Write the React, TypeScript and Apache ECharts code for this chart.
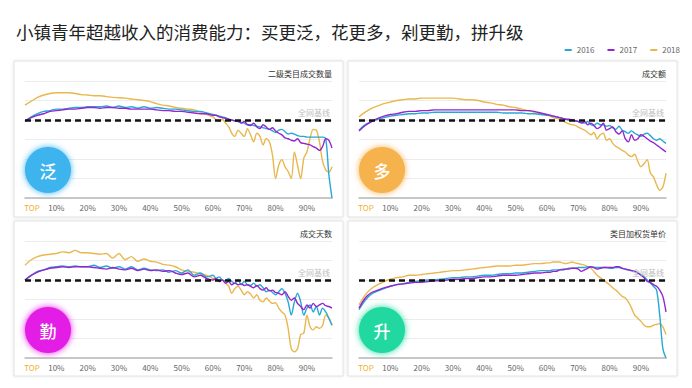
import React, { useEffect, useRef } from 'react';
import * as echarts from 'echarts';

const TITLE = '小镇青年超越收入的消费能力：买更泛，花更多，剁更勤，拼升级';
const YEARS = ['2016', '2017', '2018'];
const YEAR_COLORS = ['#27a8d4', '#9326cf', '#e8b84e'];
const PANEL_TITLES = ['二级类目成交数量', '成交额', '成交天数', '类目加权货单价'];
const BADGES = ['泛', '多', '勤', '升'];
const BADGE_COLORS = ['#3db4ee', '#f6b24e', '#e31fe6', '#22d8a1'];
const BASELINE = 100;
const BASELINE_LABEL = '全网基线';
const TOP_LABEL = 'TOP';

// ranking percentile positions
const XS = [
  0, 2, 4, 6, 8, 10, 12, 14, 16, 18, 20, 22, 24, 26, 28, 30, 32, 34, 36, 38, 40, 42, 44, 46, 48, 50, 52, 54, 56, 58, 60,
  61, 62, 63, 64, 65, 66, 67, 68, 69, 70, 71, 72, 73, 74, 75, 76, 77, 78, 79, 80, 81, 82, 83, 84, 85, 86, 87, 88, 89, 90,
  91, 92, 93, 94, 95, 96, 97, 98,
];

// Panel 1: 二级类目成交数量 (index, baseline = 100)
const QTY_2016 = [
  98, 104, 108, 111, 112, 114, 114, 115, 116, 116, 117, 117, 117, 118, 116, 118, 116, 117, 115, 117, 115, 116, 115, 114, 114, 113, 112, 111, 111, 109, 107,
  106, 105, 104, 103, 101, 100, 99, 98, 97, 96, 94, 94, 93, 92, 91, 90, 89, 88, 86, 84, 87, 88, 85, 82, 83, 82, 80, 79, 79, 78,
  78, 78, 78, 78, 78, 76, 30, 0,
];
const QTY_2017 = [
  99, 103, 106, 108, 111, 112, 113, 114, 114, 115, 116, 116, 115, 116, 116, 115, 115, 114, 114, 114, 114, 113, 112, 112, 111, 111, 110, 109, 108, 108, 106,
  106, 104, 103, 102, 101, 100, 99, 99, 96, 98, 94, 93, 96, 91, 89, 94, 91, 88, 90, 86, 83, 81, 77, 76, 74, 73, 76, 71, 70, 69,
  68, 66, 64, 61, 66, 76, 74, 64,
];
const QTY_2018 = [
  119, 124, 129, 132, 134, 135, 135, 135, 134, 132.5, 132, 131, 131, 130, 129, 128.6, 128, 127, 126, 125, 123.5, 121, 119, 118, 116, 115, 114, 113, 110, 107, 104,
  100, 98, 101, 96, 91.5, 83, 79, 87, 83, 79, 89, 81, 72, 83, 79, 68, 76.5, 72, 55, 25, 42, 49, 40, 34, 25, 59, 42, 25, 51, 59,
  76.5, 88, 87, 72, 47, 36, 33, 40,
];

// Panel 2: 成交额
const GMV_2016 = [
  87, 94, 98, 101, 103, 105, 106, 107, 108, 108, 109, 109, 110, 110, 110, 110, 110, 110, 110, 110, 110, 110, 110, 109, 109, 109, 109, 108, 108, 107, 106,
  106, 105, 104, 103, 102, 101, 100, 100, 99, 98, 97, 96, 98, 94, 93, 96, 94, 94, 92, 93, 90, 88, 92, 87, 85, 83, 86, 83, 81, 79,
  82, 83, 80, 76, 74, 76, 73, 70,
];
const GMV_2017 = [
  86, 93, 98, 102, 105, 107, 108, 110, 111, 111, 112, 112, 113, 113, 113, 113, 113, 113, 113, 113, 113, 113, 113, 113, 113, 113, 112, 112, 111, 109, 107,
  106, 105, 104, 103, 102, 101, 101, 100, 99, 98, 96, 98, 94, 96, 93, 89, 91, 96, 87, 89, 91, 85, 82, 86, 76, 72, 81, 74, 76, 81,
  79, 76, 73, 71, 68, 65, 62, 59,
];
const GMV_2018 = [
  104, 110, 115, 118, 121, 123, 125, 126, 127, 127, 128, 128, 128, 128, 128, 128, 127, 126, 126, 125, 123, 122, 120, 119, 117, 116, 114, 112, 110, 108, 106,
  105, 103, 102, 101, 99, 97, 95, 94, 93, 91, 89, 87, 84, 81, 84, 76, 81, 83, 74, 76, 70, 66, 64, 61, 59, 55, 53, 56, 47, 40,
  44, 49, 32, 27, 17, 10, 14, 32,
];

// Panel 3: 成交天数
const DAYS_2016 = [
  100, 106, 111, 113, 116, 117, 118, 117, 118, 117, 117, 119, 116, 118, 115, 117, 114, 117, 113, 115, 113, 112, 113, 110, 112, 109, 113, 106, 109, 104, 106,
  102, 104, 100, 99, 102, 98, 96, 100, 94, 98, 94, 93, 96, 92, 94, 90, 85, 87, 84, 81, 85, 89, 83, 72, 55, 72, 83, 72, 55, 64,
  68, 59, 66, 55, 64, 59, 51, 42,
];
const DAYS_2017 = [
  100, 106, 110, 113, 115, 116, 117, 116, 117, 117, 117, 116, 115, 114, 116, 114, 113, 115, 112, 114, 112, 113, 111, 112, 109, 107, 109, 104, 106, 102, 100,
  102, 98, 100, 96, 98, 94, 96, 94, 95, 93, 94, 92, 90, 93, 89, 87, 90, 86, 87, 84, 83, 81, 85, 79, 74, 77, 70, 66, 62, 68,
  64, 70, 66, 68, 70, 67, 66, 64,
];
const DAYS_2018 = [
  119, 126, 130, 132, 133, 134, 136, 135, 138, 135, 135, 134, 133, 134, 128, 134, 126, 130, 124, 127, 124, 123, 120, 119, 117, 113, 111, 110, 108, 106, 102,
  101, 98, 100, 96, 92, 83, 89, 92, 87, 81, 85, 82, 77, 81, 74, 72, 77, 73, 70, 71, 64, 59, 55, 38, 12, 8, 12, 30, 32, 55,
  40, 36, 40, 38, 42, 55, 51, 42,
];

// Panel 4: 类目加权货单价
const PRICE_2016 = [
  62, 74, 82, 86, 89, 92, 94, 95, 97, 98, 99, 100, 100, 101, 102, 103, 103, 104, 104, 105, 106, 106, 107, 108, 108, 109, 109, 110, 111, 112, 112,
  112, 113, 113, 113, 114, 114, 115, 115, 115, 116, 116, 116, 117, 117, 116, 116, 116, 116, 116, 115, 115, 116, 116, 115, 114, 113, 112, 111, 109, 107,
  104, 100, 96, 92, 87, 55, 12, 0,
];
const PRICE_2017 = [
  64, 77, 84, 87, 90, 92, 94, 95, 96, 97, 97, 98, 99, 99, 100, 101, 101, 102, 102, 103, 104, 104, 105, 106, 106, 106, 107, 108, 109, 109, 110,
  110, 111, 111, 113, 113, 114, 114, 115, 115, 114, 111, 113, 115, 117, 116, 114, 115, 116, 116, 116, 116, 117, 117, 115, 114, 113, 112, 111, 109, 106,
  103, 98, 97, 94, 92, 87, 79, 59,
];
const PRICE_2018 = [
  68, 81, 89, 94, 98, 101, 103, 104, 106, 106, 107, 108, 109, 110, 111, 112, 112, 113, 114, 115, 116, 117, 118, 118, 118, 119, 119, 120, 121, 121, 122,
  122, 123, 123, 123, 122, 121, 122, 123, 122, 121, 120, 119, 117, 115, 111, 106, 103, 100, 97, 94, 90, 87, 83, 79, 77, 72, 64, 55, 51, 47,
  42, 40, 40, 42, 43, 44, 40, 30,
];

const PANEL_DATA = [
  [QTY_2016, QTY_2017, QTY_2018],
  [GMV_2016, GMV_2017, GMV_2018],
  [DAYS_2016, DAYS_2017, DAYS_2018],
  [PRICE_2016, PRICE_2017, PRICE_2018],
];

const FONT = '"Noto Sans CJK SC", "Noto Sans", sans-serif';
const W = 692;
const H = 388;
const PANELS = [
  { px: 14, py: 61, h: 156 },
  { px: 348, py: 61, h: 156 },
  { px: 14, py: 221, h: 155 },
  { px: 348, py: 221, h: 155 },
];
const PANEL_W = 329;
const GRID_W = 307;
const GRID_H = 117;

function buildOption() {
  const grids: any[] = [];
  const xAxes: any[] = [];
  const yAxes: any[] = [];
  const series: any[] = [];
  const titles: any[] = [
    {
      text: TITLE,
      left: 16,
      top: 23,
      padding: 0,
      textStyle: { fontSize: 17.5, fontWeight: 'normal', color: '#222', fontFamily: FONT },
    },
  ];
  const graphics: any[] = [];

  PANELS.forEach((p, i) => {
    const gl = p.px + 11;
    const gt = p.py + 20;
    grids.push({ left: gl, top: gt, width: GRID_W, height: GRID_H, containLabel: false });
    xAxes.push({
      type: 'value',
      gridIndex: i,
      min: 0,
      max: 98,
      interval: 10,
      axisLine: { show: true, lineStyle: { color: '#b8b8b8', width: 1.5 } },
      axisTick: { show: false },
      splitLine: { show: false },
      axisLabel: {
        margin: 5,
        fontSize: 8,
        color: '#666',
        fontFamily: FONT,
        showMaxLabel: false,
        formatter: (v: number) => (v === 0 ? '{t|' + TOP_LABEL + '}' : v > 95 ? '' : v + '%'),
        rich: { t: { color: '#efb02e', fontSize: 8, fontFamily: FONT, padding: [0, 0, 0, 14] } },
      },
    });
    yAxes.push({
      type: 'value',
      gridIndex: i,
      min: 0,
      max: 150,
      interval: 25,
      axisLine: { show: false },
      axisTick: { show: false },
      axisLabel: { show: false },
      splitLine: { show: true, lineStyle: { color: '#ececec', width: 1 } },
    });
    titles.push({
      text: PANEL_TITLES[i],
      right: W - (gl + GRID_W),
      top: p.py + 8,
      padding: 0,
      textStyle: { fontSize: 8, fontWeight: 'normal', color: '#333', fontFamily: FONT },
    });
    graphics.push({
      type: 'rect',
      z: -5,
      shape: { x: p.px, y: p.py, width: PANEL_W, height: p.h },
      style: { fill: '#fff', stroke: '#e2e2e2', lineWidth: 1, shadowBlur: 3, shadowColor: 'rgba(0,0,0,0.10)' },
    });
    const cx = p.px + 34;
    const cy = p.py + 109;
    graphics.push({
      type: 'circle',
      z: 50,
      shape: { cx, cy, r: 23 },
      style: { fill: BADGE_COLORS[i], shadowBlur: 6, shadowColor: BADGE_COLORS[i] },
    });
    graphics.push({
      type: 'text',
      z: 51,
      x: cx,
      y: cy,
      style: {
        text: BADGES[i],
        fill: '#fff',
        fontSize: 17,
        fontWeight: 500,
        fontFamily: FONT,
        align: 'center',
        verticalAlign: 'middle',
      },
    });

    const order = [2, 0, 1];
    order.forEach((k, idx) => {
      const ys = PANEL_DATA[i][k];
      const s: any = {
        name: YEARS[k],
        type: 'line',
        xAxisIndex: i,
        yAxisIndex: i,
        data: XS.map((x, j) => [x, ys[j]]),
        showSymbol: false,
        smooth: 0.3,
        lineStyle: { width: 1.4, color: YEAR_COLORS[k] },
        itemStyle: { color: YEAR_COLORS[k] },
        z: 2 + idx,
      };
      if (idx === 2) {
        s.markLine = {
          silent: true,
          symbol: ['none', 'none'],
          z: 10,
          data: [{ yAxis: BASELINE }],
          lineStyle: { color: '#111', width: 2.5, type: [6, 4] },
          label: {
            show: true,
            position: 'insideEndTop',
            formatter: BASELINE_LABEL,
            color: '#bdbdbd',
            fontSize: 8,
            fontFamily: FONT,
            distance: [2, 4],
          },
        };
      }
      series.push(s);
    });
  });

  return {
    animation: false,
    backgroundColor: '#fff',
    title: titles,
    legend: {
      data: YEARS,
      right: 12,
      top: 46,
      padding: 0,
      icon: 'rect',
      itemWidth: 7,
      itemHeight: 2,
      itemGap: 13,
      textStyle: { fontSize: 8, color: '#666', fontFamily: FONT },
    },
    grid: grids,
    xAxis: xAxes,
    yAxis: yAxes,
    series,
    graphic: graphics,
  };
}

export default function App() {
  const ref = useRef<HTMLDivElement>(null);
  useEffect(() => {
    document.body.style.margin = '0';
    const chart = echarts.init(ref.current as HTMLDivElement, null, { renderer: 'svg' });
    chart.setOption(buildOption() as any);
    return () => chart.dispose();
  }, []);
  return <div ref={ref} style={{ width: W, height: H, background: '#fff' }} />;
}
